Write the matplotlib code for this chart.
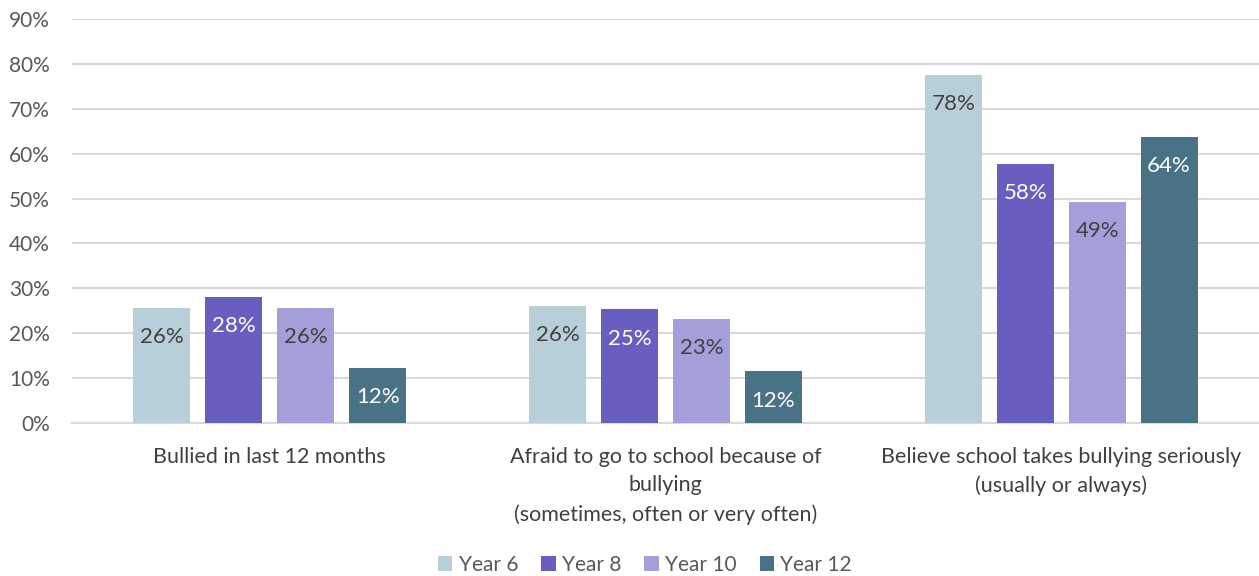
import numpy as np
import matplotlib
matplotlib.use("Agg")
import matplotlib.pyplot as plt

categories = ["Bullied in last 12 months",
              "Afraid to go to school because of\nbullying\n(sometimes, often or very often)",
              "Believe school takes bullying seriously\n(usually or always)"]
series = ["Year 6", "Year 8", "Year 10", "Year 12"]
year6 = [25.7, 26.1, 77.6]
year8 = [28.1, 25.3, 57.8]
year10 = [25.7, 23.1, 49.3]
year12 = [12.3, 11.5, 63.8]
labels6 = ["26%", "26%", "78%"]
labels8 = ["28%", "25%", "58%"]
labels10 = ["26%", "23%", "49%"]
labels12 = ["12%", "12%", "64%"]

colors = ["#b8cfda", "#675ebf", "#a49fd8", "#4a7286"]
text_colors = ["#404040", "white", "#404040", "white"]

plt.rcParams['font.family'] = ['Lato', 'DejaVu Sans']

fig = plt.figure(figsize=(12.59, 5.76), dpi=100)
ax = fig.add_axes([72 / 1259, 1 - 423 / 576, 1187 / 1259, (423 - 19) / 576])

x = np.arange(len(categories))
width = 57 / 396
step = 72 / 396
data = [year6, year8, year10, year12]
labs = [labels6, labels8, labels10, labels12]
for i, (vals, lab) in enumerate(zip(data, labs)):
    pos = x + (i - 1.5) * step
    bars = ax.bar(pos, vals, width, color=colors[i], label=series[i], zorder=3)
    for b, t in zip(bars, lab):
        ax.annotate(t, (b.get_x() + b.get_width() / 2, b.get_height()),
                    xytext=(0, -21), textcoords="offset points",
                    ha="center", va="center", fontsize=16, color=text_colors[i], zorder=4)

ax.set_xlim(-0.5, 2.5)
ax.set_ylim(0, 90)
ax.set_yticks(np.arange(0, 91, 10))
ax.set_yticklabels([f"{v}%" for v in range(0, 91, 10)])
ax.grid(axis="y", color="#d9d9d9", linewidth=1.5, zorder=0)
for s in ["top", "right", "left"]:
    ax.spines[s].set_visible(False)
ax.spines["bottom"].set_color("#d9d9d9")
ax.spines["bottom"].set_linewidth(1.5)
ax.tick_params(axis="y", length=0, labelsize=15, labelcolor="#595959", pad=16)
ax.tick_params(axis="x", length=0, labelsize=15.5, labelcolor="#404040", pad=17)
ax.set_xticks(x)
ax.set_xticklabels(categories, linespacing=1.55)

fig.legend(loc="center", bbox_to_anchor=(645 / 1259, 1 - 565 / 576), ncol=4,
           frameon=False, fontsize=15, handlelength=0.7, handleheight=0.7,
           handletextpad=0.3, columnspacing=1.1, labelcolor="#595959")

fig.savefig("out.png", dpi=100)
